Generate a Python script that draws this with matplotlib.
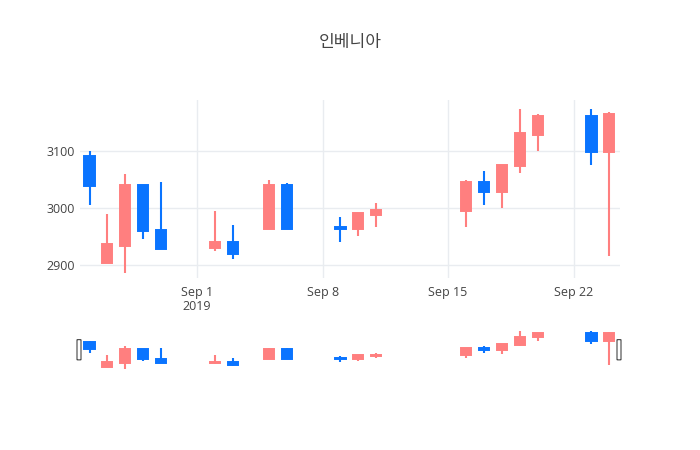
import matplotlib
matplotlib.use("Agg")
import matplotlib.pyplot as plt
import matplotlib.dates as mdates
from matplotlib.patches import FancyBboxPatch
import numpy as np
import pandas as pd

title = "인베니아"
dates = ["2019-08-26", "2019-08-27", "2019-08-28", "2019-08-29", "2019-08-30",
         "2019-09-02", "2019-09-03", "2019-09-05", "2019-09-06",
         "2019-09-09", "2019-09-10", "2019-09-11",
         "2019-09-16", "2019-09-17", "2019-09-18", "2019-09-19", "2019-09-20",
         "2019-09-23", "2019-09-24"]
opens  = [3091, 2903, 2934, 3041, 2961, 2929, 2941, 2964, 3041, 2966, 2964, 2988,
          2994, 3046, 3029, 3074, 3129, 3162, 3099]
highs  = [3100, 2990, 3060, 3041, 3045, 2994, 2970, 3050, 3044, 2984, 2991, 3009,
          3050, 3065, 3076, 3175, 3165, 3175, 3169]
lows   = [3005, 2903, 2885, 2945, 2928, 2925, 2910, 2964, 2964, 2940, 2950, 2966,
          2966, 3005, 3000, 3061, 3100, 3075, 2915]
closes = [3038, 2936, 3041, 2959, 2928, 2941, 2919, 3041, 2964, 2964, 2991, 2996,
          3046, 3029, 3076, 3132, 3162, 3099, 3166]
tick_dates = ["2019-09-01", "2019-09-08", "2019-09-15", "2019-09-22"]
tick_labels = ["Sep 1\n2019", "Sep 8", "Sep 15", "Sep 22"]
y_ticks = [2900, 3000, 3100]

UP = "#FF7F7F"
DOWN = "#0A74FF"
GRID = "#E9ECF0"
TXT = "#444444"

plt.rcParams['font.family'] = ['Open Sans', 'Noto Sans CJK KR', 'DejaVu Sans']

x = mdates.date2num(pd.to_datetime(dates))
o = np.array(opens, float); h = np.array(highs, float)
l = np.array(lows, float); c = np.array(closes, float)
xt = mdates.date2num(pd.to_datetime(tick_dates))

fig = plt.figure(figsize=(7, 4.5), dpi=100)
ax = fig.add_axes([80/700, (450-278)/450, 540/700, 178/450])
axs = fig.add_axes([80/700, 80/450, 540/700, 40.5/450])

xlim = (x[0] - 0.53, x[-1] + 0.59)
ylim = (2877, 3190)

def draw(a):
    for xi, oi, hi, li, ci in zip(x, o, h, l, c):
        col = UP if ci >= oi else DOWN
        a.vlines(xi, li, hi, color=col, linewidth=1.5, zorder=3)
        lo_b, hi_b = min(oi, ci), max(oi, ci)
        a.bar(xi, hi_b - lo_b, bottom=lo_b, width=0.56, color=col,
              edgecolor=col, linewidth=1.4, zorder=4)
    a.set_xlim(*xlim)
    a.set_ylim(*ylim)
    for s in a.spines.values():
        s.set_visible(False)

draw(ax)
draw(axs)

ax.set_xticks(xt)
ax.set_xticklabels(tick_labels)
ax.set_yticks(y_ticks)
ax.set_yticklabels([str(v) for v in y_ticks])
ax.tick_params(axis='both', length=0, labelsize=9, colors=TXT)
ax.tick_params(axis='x', pad=5.5)
ax.tick_params(axis='y', pad=4)
for lab in ax.get_xticklabels():
    lab.set_linespacing(1.15)
ax.grid(True, color=GRID, linewidth=1, zorder=0)
ax.set_axisbelow(True)

axs.set_xticks([]); axs.set_yticks([])

# range slider handles
for xc in (0.0, 1.0):
    hw = 4 / 540
    p = FancyBboxPatch((xc - hw / 2 - 1/540, 0.25), hw, 0.5,
                       boxstyle="round,pad=0,rounding_size=0.003",
                       transform=axs.transAxes, facecolor="white",
                       edgecolor="#444444", linewidth=0.8, clip_on=False, zorder=6,
                       mutation_aspect=1)
    axs.add_patch(p)

fig.text(350/700, 1 - 43/450, title, ha='center', va='center',
         fontsize=12.3, color=TXT)

fig.savefig("out.png", dpi=100, facecolor="white")
